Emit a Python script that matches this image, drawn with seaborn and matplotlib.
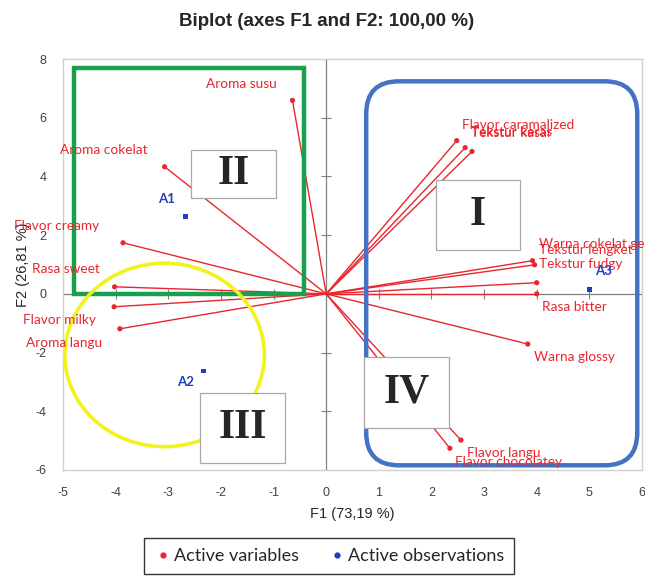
import matplotlib
matplotlib.use('Agg')
from matplotlib import pyplot as plt
from matplotlib.patches import Rectangle, Ellipse, FancyBboxPatch
from matplotlib.lines import Line2D
import seaborn as sns
import pandas as pd

# active variables (F1, F2 loadings)
var_names = ['Aroma susu', 'Aroma cokelat', 'Flavor creamy', 'Rasa sweet', 'Flavor milky',
             'Aroma langu', 'Flavor caramalized', 'Tekstur kasar', 'Tekstur keras',
             'Warna cokelat gelap', 'Tekstur lengket', 'Tekstur fudgy', 'Rasa bitter',
             'Warna glossy', 'Flavor langu', 'Flavor chocolatey']
var_f1 = [-0.64, -3.07, -3.86, -4.02, -4.03, -3.92, 2.48, 2.64, 2.77,
          3.92, 3.96, 4.00, 4.00, 3.83, 2.56, 2.35]
var_f2 = [6.59, 4.33, 1.74, 0.24, -0.44, -1.19, 5.22, 4.98, 4.85,
          1.13, 0.99, 0.38, 0.00, -1.71, -4.98, -5.26]

# active observations
obs_names = ['A1', 'A2', 'A3']
obs_f1 = [-2.67, -2.33, 5.00]
obs_f2 = [2.63, -2.63, 0.14]

quad_names = ['I', 'II', 'III', 'IV']

# label offsets in pixels (dx, dy, ha)
var_offsets = {
    'Aroma susu': (-51, 16, 'center'), 'Aroma cokelat': (-61, 17, 'center'),
    'Flavor creamy': (-66, 17, 'center'), 'Rasa sweet': (-49, 18, 'center'),
    'Flavor milky': (-55, -13, 'center'), 'Aroma langu': (-56, -14, 'center'),
    'Flavor caramalized': (5, 16, 'left'), 'Tekstur kasar': (6, 15, 'left'),
    'Tekstur keras': (-1, 19, 'left'), 'Warna cokelat gelap': (6, 17, 'left'),
    'Tekstur lengket': (4, 15, 'left'), 'Tekstur fudgy': (2, 19, 'left'),
    'Rasa bitter': (5, -13, 'left'), 'Warna glossy': (6, -13, 'left'),
    'Flavor langu': (6, -13, 'left'), 'Flavor chocolatey': (5, -14, 'left'),
}
obs_offsets = {'A1': (-19, 18), 'A2': (-18, -11), 'A3': (14, 19)}
# quadrant boxes: x0, y0, width, height (data units)
quad_boxes = {'I': (2.08, 1.50, 1.61, 2.39), 'II': (-2.56, 3.28, 1.61, 1.63),
              'III': (-2.39, -5.77, 1.61, 2.39), 'IV': (0.72, -4.57, 1.61, 2.42)}

RED = '#e8262e'
BLUE = '#1f3fbf'


def PlotAll(outfile):
    sns.set_style('white')
    plt.rcParams['font.family'] = ['Liberation Sans', 'DejaVu Sans']
    plt.rcParams['axes.unicode_minus'] = False
    fig = plt.figure(figsize=(6.45, 5.84), dpi=100)
    axe = fig.add_axes([63 / 645, 1 - 470 / 584, 579 / 645, 411 / 584])
    axe.set_xlim(-5, 6)
    axe.set_ylim(-6, 8)

    for s in axe.spines.values():
        s.set_color('#d0d0d0')
        s.set_linewidth(1)
    axe.axhline(0, color='#808080', lw=0.9, zorder=1)
    axe.axvline(0, color='#808080', lw=0.9, zorder=1)
    xt = list(range(-5, 7))
    yt = list(range(-6, 9, 2))
    axe.set_xticks(xt)
    axe.set_yticks(yt)
    axe.tick_params(length=0, labelsize=9, labelcolor='#404040', pad=12)
    # cross ticks on the zero lines
    axe.plot(xt, [0] * len(xt), ls='none', marker='|', ms=7, mew=0.8, color='#808080', zorder=1)
    axe.plot([0] * len(yt), yt, ls='none', marker='_', ms=7, mew=0.8, color='#808080', zorder=1)

    # vectors
    for f1, f2 in zip(var_f1, var_f2):
        axe.plot([0, f1], [0, f2], color=RED, lw=1.0, zorder=2)
    pd_var = pd.DataFrame({'F1': var_f1, 'F2': var_f2, 'name': var_names})
    pd_obs = pd.DataFrame({'F1': obs_f1, 'F2': obs_f2, 'name': obs_names})
    sns.scatterplot(data=pd_var, x='F1', y='F2', color=RED, s=14, marker='o',
                    edgecolor='none', ax=axe, zorder=3)
    sns.scatterplot(data=pd_obs, x='F1', y='F2', color=BLUE, s=12, marker='s',
                    edgecolor='none', ax=axe, zorder=3)

    for n, f1, f2 in zip(var_names, var_f1, var_f2):
        dx, dy, ha = var_offsets[n]
        axe.annotate(n, (f1, f2), xytext=(dx, dy), textcoords='offset pixels',
                     ha=ha, va='center', color=RED, fontsize=9.8, family='Lato',
                     zorder=6, annotation_clip=False)
    for n, f1, f2 in zip(obs_names, obs_f1, obs_f2):
        dx, dy = obs_offsets[n]
        axe.annotate(n, (f1, f2), xytext=(dx, dy), textcoords='offset pixels',
                     ha='center', va='center', color=BLUE, fontsize=9.5,
                     fontweight='bold', family='Lato', zorder=6)

    # group outlines
    axe.add_patch(Rectangle((-4.79, 0), 4.37, 7.71, fill=False, ec='#1aa04d', lw=3.2, zorder=4))
    axe.add_patch(Ellipse((-3.07, -2.08), 3.79, 6.25, fill=False, ec='#f2f21e', lw=2.6, zorder=4))
    axe.add_patch(FancyBboxPatch((0.76, -5.84), 5.15, 13.08,
                                 boxstyle='round,pad=0,rounding_size=0.62',
                                 mutation_aspect=1.8, fill=False, ec='#4472c4', lw=3.2, zorder=4))

    for q in quad_names:
        x0, y0, w, h = quad_boxes[q]
        axe.add_patch(Rectangle((x0, y0), w, h, fc='white', ec='#a8a8a8', lw=0.9, zorder=5))
        axe.text(x0 + w / 2, y0 + h / 2, q, ha='center', va='center', fontsize=30,
                 fontweight='bold', family='Liberation Serif', zorder=6)

    axe.set_xlabel('F1 (73,19 %)', fontsize=10.5, labelpad=6)
    axe.set_ylabel('F2 (26,81 %)', fontsize=10.5, labelpad=4)
    axe.set_title('Biplot (axes F1 and F2: 100,00 %)', fontsize=13.5, fontweight='bold',
                  pad=24, x=0.456)

    handles = [Line2D([], [], ls='none', marker='o', ms=3.5, color=RED),
               Line2D([], [], ls='none', marker='o', ms=3.5, color=BLUE)]
    leg = fig.legend(handles, ['Active variables', 'Active observations'], loc='upper center',
                     bbox_to_anchor=(0.51, 1 - 538 / 584), ncol=2, borderaxespad=0,
                     frameon=True, fancybox=False, edgecolor='black', handletextpad=0.1,
                     handlelength=1, columnspacing=1.6, borderpad=0.55,
                     prop={'family': 'Lato', 'size': 13})
    leg.get_frame().set_linewidth(1)
    plt.savefig(outfile, dpi=100)


def main():
    PlotAll('out.png')


if __name__ == '__main__':
    main()
